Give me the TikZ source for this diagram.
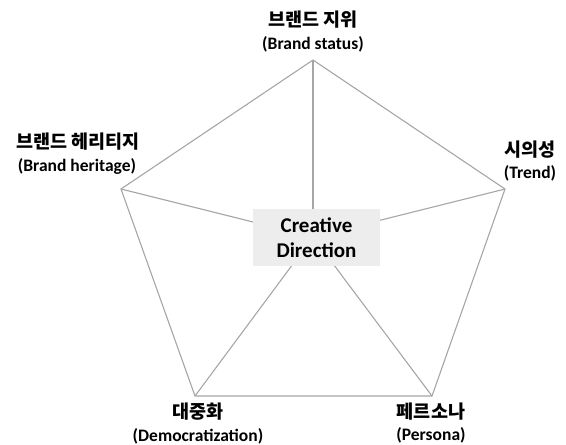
\documentclass[tikz,border=0pt]{standalone}
\usepackage{fontspec}
\setmainfont{Carlito}
\newfontfamily\krfont{Noto Sans CJK KR}
\usetikzlibrary{positioning}
\definecolor{linegray}{RGB}{166,166,166}
\definecolor{boxgray}{RGB}{237,237,237}

\begin{document}
\begin{tikzpicture}[x=1pt, y=-1pt,
    edge/.style={draw=linegray, line width=1.1pt},
    krlabel/.style={font=\krfont\bfseries\fontsize{18.5}{20}\selectfont},
    enlabel/.style={font=\bfseries\fontsize{17.5}{19}\selectfont},
    centerbox/.style={fill=boxgray, minimum width=127pt, minimum height=57pt,
        align=center, font=\bfseries\fontsize{21}{25}\selectfont}]
    \useasboundingbox (0,0) rectangle (566,445);

    % Corners of the pentagon
    \coordinate (status)   at (313,60);
    \coordinate (trend)    at (505,189);
    \coordinate (persona)  at (432,396);
    \coordinate (democ)    at (195,396);
    \coordinate (heritage) at (121,189);
    \coordinate (hub)      at (313,237);

    % Outline and spokes
    \draw[edge] (status) -- (trend) -- (persona) -- (democ) -- (heritage) -- cycle;
    \foreach \v in {status, trend, persona, democ, heritage} {
        \draw[edge] (\v) -- (hub);
    }

    % Centre
    \node[centerbox] (cd) at (316.5,237.5) {Creative\\Direction};

    % Labels
    \node[krlabel] (status-kr) at (313,20) {브랜드 지위};
    \node[enlabel] (status-en) at (313,44) {(Brand status)};
    \node[krlabel] (heritage-kr) at (78,142) {브랜드 헤리티지};
    \node[enlabel] (heritage-en) at (77,166) {(Brand heritage)};
    \node[krlabel] (trend-kr) at (530,150) {시의성};
    \node[enlabel] (trend-en) at (530,173) {(Trend)};
    \node[krlabel] (democ-kr) at (198,412) {대중화};
    \node[enlabel] (democ-en) at (198,436) {(Democratization)};
    \node[krlabel] (persona-kr) at (431,412) {페르소나};
    \node[enlabel] (persona-en) at (431,435) {(Persona)};
\end{tikzpicture}
\end{document}
